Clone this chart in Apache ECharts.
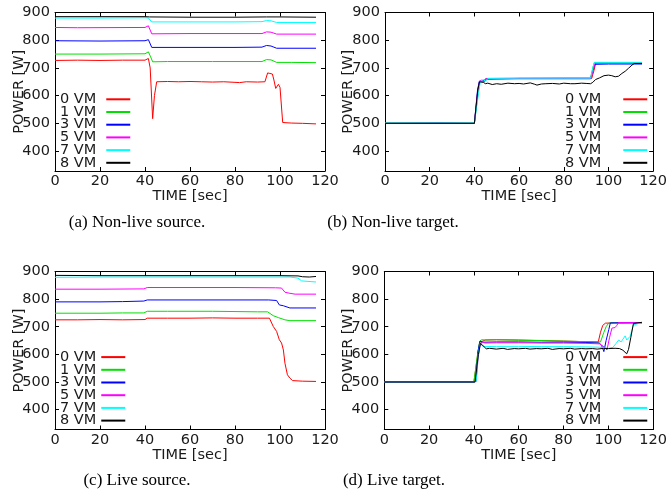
<!DOCTYPE html>
<html>
<head>
<meta charset="utf-8">
<script src="https://cdn.jsdelivr.net/npm/echarts@6.0.0/dist/echarts.min.js"></script>
<style>
  html, body { margin: 0; padding: 0; background: #fff; }
  #main { width: 670px; height: 491px; }
</style>
</head>
<body>
<div id="main"></div>
<script>
// legend names and tick values
var vmNames = ['0 VM', '1 VM', '3 VM', '5 VM', '7 VM', '8 VM'];
var xTicks = [0, 20, 40, 60, 80, 100, 120];
var yTicks = [400, 500, 600, 700, 800, 900];
var captions = ['(a) Non-live source.', '(b) Non-live target.', '(c) Live source.', '(d) Live target.'];

// (a) non-live source, [time s, power W]
var nlSrc0 = [[0,727],[10,728],[20,727],[30,728],[40,728],[41.5,734],[42.3,700],[43.4,517],[44.2,600],[45.2,650],[50,651],[55,650],[60,651],[65,650],[70,649],[75,650],[80,648],[82,647],[85,650],[90,649],[93.3,650],[94.5,682],[95.5,680],[96.6,678],[97.2,660],[98.1,626],[98.7,632],[99.3,641],[100,630],[101.2,503],[105,501],[110,500],[116,498]];
var nlSrc1 = [[0,750],[20,750],[40,751],[41.5,758],[42.5,740],[43.4,722],[50,723],[60,723],[70,723],[80,723],[92,723],[94,730],[96,729],[98.5,720],[105,720],[116,719]];
var nlSrc3 = [[0,798],[20,797],[40,798],[41.5,802],[43,774],[60,774],[80,774],[92,775],[94,781],[96,779],[98.5,771],[116,771]];
var nlSrc5 = [[0,846],[10,845],[40,846],[41.5,852],[43,823],[60,824],[80,824],[92,824],[94,830],[96,829],[98.5,822],[116,822]];
var nlSrc7 = [[0,880],[20,880],[40,881],[41.5,880],[43,866],[60,866],[80,866],[92,867],[94,871],[96,870],[98.5,864],[116,864]];
var nlSrc8 = [[0,885],[40,885],[42,884],[60,883],[80,883],[94,884],[100,884],[116,883]];

// (b) non-live target
var nlTgt0 = [[0,500],[20,500],[40,500],[40.5,502],[41.5,600],[42.3,650],[43,654],[44,650],[45,660],[50,661],[60,662],[70,662],[80,662],[90,662],[92.5,662],[93.5,690],[94.3,718],[100,718],[110,718],[115,718]];
var nlTgt1 = [[0,501],[40,501],[40.7,503],[41.6,610],[42.5,652],[43,655],[44,651],[45,662],[60,663],[80,664],[92,664],[93,700],[93.7,720],[100,720],[115,720]];
var nlTgt3 = [[0,500],[24,501],[40,500],[40.5,502],[41.4,620],[42.2,652],[43.5,655],[44.5,652],[45.5,660],[60,661],[80,661],[92,661],[93,690],[94,713],[100,714],[115,714]];
var nlTgt5 = [[0,500],[40,500],[40.6,502],[41.5,615],[42.4,653],[43.3,656],[44.3,651],[45.3,661],[60,662],[80,662],[92,662],[93.2,695],[94,717],[115,717]];
var nlTgt7 = [[0,501],[40,501],[40.8,503],[41.8,605],[42.7,652],[44,658],[45,652],[46,662],[60,663],[80,663],[92,663],[93,700],[93.6,719],[115,719]];
var nlTgt8 = [[0,500],[40,500],[40.5,503],[41.5,620],[42.3,650],[43,652],[44,648],[45,643],[46,645],[48,640],[50,643],[52,641],[55,645],[58,643],[60,644],[62,642],[65,646],[67,641],[68,638],[70,642],[72,643],[75,644],[78,642],[80,645],[83,643],[85,643],[88,645],[90,644],[92,643],[93,648],[94.2,658],[96,664],[98,672],[100,674],[101.5,672],[103,668],[104.5,670],[106,680],[107.5,688],[109,699],[110.5,710],[111.5,716],[115,716]];

// (c) live source
var lvSrc0 = [[0,725],[10,725],[20,726],[30,725],[40,726],[41,731],[50,731],[60,731],[70,732],[80,731],[90,731],[95.3,731],[97,701],[98.5,683],[99.7,653],[100.7,641],[101.5,616],[102.2,568],[103.3,526],[104.4,514],[105.6,505],[110,503],[116,502]];
var lvSrc1 = [[0,749],[20,749],[30,750],[39.5,750],[41,756],[50,756],[60,756],[70,756],[80,755],[90,754],[94.5,754],[97,740],[99.3,733],[102.2,725],[104.4,722],[116,722]];
var lvSrc3 = [[0,790],[20,790],[30,791],[39.5,793],[41,797],[60,797],[80,797],[95,797],[98.5,795],[99.7,779],[101.5,776],[104.4,768],[116,768]];
var lvSrc5 = [[0,836],[20,836],[39.5,837],[41,842],[60,842],[80,842],[98,841],[100.7,840],[102.2,825],[104.4,821],[106.7,818],[116,818]];
var lvSrc7 = [[0,879],[20,880],[40,880],[60,880],[80,880],[100,880],[104.4,880],[108,876],[109.6,866],[116,862]];
var lvSrc8 = [[0,886],[20,885],[40,885],[60,885],[80,885],[100,885],[108,884],[110,881],[113,880],[116,882]];

// (d) live target
var lvTgt0 = [[0,500],[40,500],[40.8,502],[41.7,600],[42.6,645],[43.3,652],[44,648],[45,652],[50,653],[60,652],[70,650],[80,648],[90,646],[95.5,645],[96.5,680],[97.5,705],[98.7,713],[105,714],[115,714]];
var lvTgt1 = [[0,500],[40,500],[40.8,502],[41.7,605],[42.6,648],[43.5,653],[45,652],[50,653],[60,651],[70,650],[80,648],[90,646],[96.5,645],[98,680],[99,700],[100.2,714],[115,714]];
var lvTgt3 = [[0,500],[40,500],[40.9,502],[41.8,610],[42.7,648],[44,644],[50,645],[60,645],[70,644],[80,644],[90,643],[96,641],[97,632],[98,610],[99,650],[100.2,690],[100.9,714],[115,715]];
var lvTgt5 = [[0,500],[40,500],[41,502],[41.9,590],[42.7,630],[43.5,645],[45,641],[50,642],[60,642],[70,641],[80,641],[90,640],[96,638],[97.6,630],[99.4,616],[100.5,660],[101.6,695],[103,697],[103.8,705],[104.5,715],[115,715]];
var lvTgt7 = [[0,500],[40,500],[41,502],[41.9,600],[42.8,640],[43.8,630],[45,628],[50,629],[60,629],[70,628],[80,628],[90,627],[96,626],[100,622],[102,625],[103.5,640],[104.6,652],[105.7,645],[107.5,667],[108.2,652],[109.7,665],[111.2,707],[111.9,713],[115,715]];
var lvTgt8 = [[0,500],[40.5,500],[41.2,502],[42,600],[42.9,640],[43.6,645],[44.5,628],[45.5,620],[47,622],[50,619],[53,622],[55,618],[58,621],[60,620],[63,622],[65,619],[68,621],[70,620],[73,622],[75,618],[78,621],[80,620],[83,622],[85,619],[88,621],[90,620],[93,621],[95,619],[98,622],[100,621],[103,622],[105,621],[106.5,615],[108.2,602],[109,618],[110,660],[111.2,712],[115,716]];

var panelData = [
  [nlSrc0, nlSrc1, nlSrc3, nlSrc5, nlSrc7, nlSrc8],
  [nlTgt0, nlTgt1, nlTgt3, nlTgt5, nlTgt7, nlTgt8],
  [lvSrc0, lvSrc1, lvSrc3, lvSrc5, lvSrc7, lvSrc8],
  [lvTgt0, lvTgt1, lvTgt3, lvTgt5, lvTgt7, lvTgt8]
];

var colors = ['#ff0000', '#00e000', '#0000ff', '#ff00ff', '#00ffff', '#000000'];
var sansFont = 'DejaVu Sans';
var serifFont = 'Liberation Serif';

// layout of each panel
var panels = [
  { left: 55,    top: 12.5,  width: 270,   height: 158.5, nameGap: 28, legLeft: 60,  legTop: 91.8,  legPad: 5,  capX: 137, capY: 223 },
  { left: 385,   top: 12.5,  width: 271.7, height: 158.5, nameGap: 29, legLeft: 565, legTop: 91.8,  legPad: 17, capX: 393, capY: 223 },
  { left: 55,    top: 271.5, width: 270,   height: 158,   nameGap: 28, legLeft: 60,  legTop: 349.6, legPad: 0,  capX: 137, capY: 481 },
  { left: 384.3, top: 271.5, width: 272.4, height: 158,   nameGap: 29, legLeft: 565, legTop: 349.6, legPad: 17, capX: 394, capY: 481 }
];

var chart = echarts.init(document.getElementById('main'));

var labelStyle = { fontFamily: sansFont, fontSize: 14.5, color: '#1a1a1a' };
var grids = [], xAxes = [], yAxes = [], legends = [], series = [], graphics = [];

panels.forEach(function (p, i) {
  grids.push({ left: p.left, top: p.top, width: p.width, height: p.height });

  var tick = { inside: true, length: 4, lineStyle: { color: '#000' } };
  var line = { onZero: false, lineStyle: { color: '#000', width: 1 } };

  xAxes.push({
    gridIndex: i, type: 'value', min: 0, max: 120, interval: 20,
    axisLine: line, axisTick: tick, splitLine: { show: false },
    axisLabel: Object.assign({ margin: 3 }, labelStyle),
    name: 'TIME [sec]', nameLocation: 'middle', nameGap: 18, nameMoveOverlap: false,
    nameTextStyle: labelStyle
  });
  xAxes.push({
    gridIndex: i, type: 'value', position: 'top', min: 0, max: 120, interval: 20,
    axisLine: line, axisTick: tick, splitLine: { show: false }, axisLabel: { show: false }
  });
  yAxes.push({
    gridIndex: i, type: 'value', min: 328, max: 900,
    axisLine: line, splitLine: { show: false },
    axisTick: Object.assign({ customValues: yTicks }, tick),
    axisLabel: Object.assign({ customValues: yTicks, margin: 5 }, labelStyle),
    name: 'POWER [W]', nameLocation: 'middle', nameGap: p.nameGap, nameMoveOverlap: false,
    nameTextStyle: labelStyle
  });
  yAxes.push({
    gridIndex: i, type: 'value', position: 'right', min: 328, max: 900,
    axisLine: line, splitLine: { show: false },
    axisTick: Object.assign({ customValues: yTicks }, tick),
    axisLabel: { show: false }
  });

  legends.push({
    data: vmNames, orient: 'vertical', left: p.legLeft, top: p.legTop,
    align: 'right', itemGap: -2.3, itemWidth: 24, itemHeight: 12.7, padding: 0,
    selectedMode: false,
    itemStyle: { opacity: 0 },
    textStyle: Object.assign({ lineHeight: 12.7, padding: [0, p.legPad, 0, 0] }, labelStyle)
  });

  panelData[i].forEach(function (d, k) {
    series.push({
      type: 'line', name: vmNames[k], xAxisIndex: 2 * i, yAxisIndex: 2 * i,
      data: d, symbol: 'none',
      lineStyle: { width: 1, color: colors[k] }, itemStyle: { color: colors[k] }
    });
  });

  graphics.push({
    type: 'text', x: p.capX, y: p.capY,
    style: { text: captions[i], font: '17px "' + serifFont + '"', fill: '#000', align: 'center', verticalAlign: 'middle' }
  });
});

chart.setOption({
  animation: false,
  grid: grids,
  xAxis: xAxes,
  yAxis: yAxes,
  legend: legends,
  series: series,
  graphic: graphics
});
</script>
</body>
</html>
